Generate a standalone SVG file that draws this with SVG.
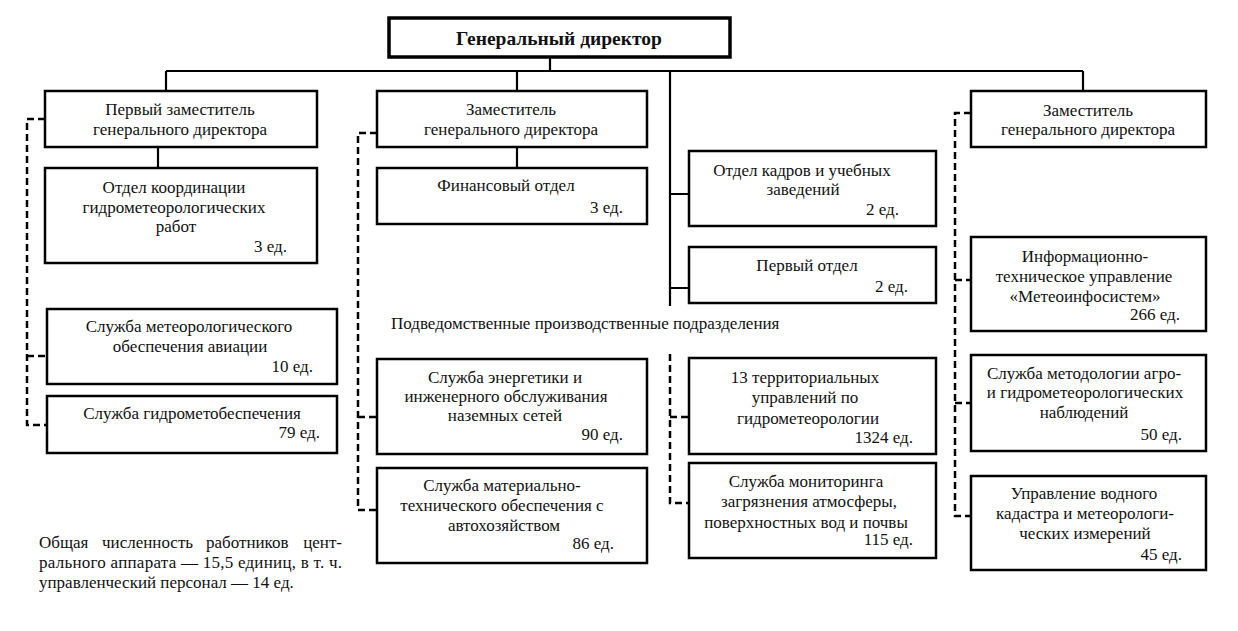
<svg xmlns="http://www.w3.org/2000/svg" width="1238" height="631" viewBox="0 0 1238 631">
<style>
.box{fill:#fff;stroke:#000;stroke-width:2.5}
.gd{fill:#fff;stroke:#000;stroke-width:3.5}
.ln{fill:none;stroke:#000;stroke-width:2.2}
.dl{fill:none;stroke:#000;stroke-width:2.5;stroke-dasharray:7 4}
text{font-family:"Liberation Serif","Times New Roman",serif;font-size:17px;fill:#111}
.c{text-anchor:middle}
.r{text-anchor:end}
.b{font-weight:bold;font-size:19.5px}
</style>
<rect width="1238" height="631" fill="#fff"/>
<g id="connectors">
<path class="ln" d="M550,57V71M166,71H1083M166,71V91M517,71V91M1083,71V91M670,71V306M670,194H689M670,288H689M158,147V168M517,147V168"/>
<path class="dl" d="M45,119H27V425H47M27,356H47"/>
<path class="dl" d="M377,133H358V510H377M358,417H377"/>
<path class="dl" d="M670,354V503H689M670,417H689"/>
<path class="dl" d="M971,113H955V516H971M955,280H971M955,403H971"/>
</g>
<g id="gd"><rect class="gd" x="389" y="18" width="341" height="39"/><text class="c b" x="559" y="45">Генеральный директор</text></g>
<g id="dep1"><rect class="box" x="45" y="91" width="272" height="56"/><text class="c" x="180" y="115">Первый заместитель</text><text class="c" x="180" y="135">генерального директора</text></g>
<g id="coord"><rect class="box" x="45" y="168" width="272" height="95"/><text class="c" x="174" y="193">Отдел координации</text><text class="c" x="174" y="213">гидрометеорологических</text><text class="c" x="176" y="232">работ</text><text class="r" x="287" y="252">3 ед.</text></g>
<g id="meteo"><rect class="box" x="47" y="309" width="290" height="75"/><text class="c" x="189" y="332">Служба метеорологического</text><text class="c" x="190" y="352">обеспечения авиации</text><text class="r" x="313" y="372">10 ед.</text></g>
<g id="hydro"><rect class="box" x="47" y="396" width="290" height="57"/><text class="c" x="192" y="419">Служба гидрометобеспечения</text><text class="r" x="320" y="438">79 ед.</text></g>
<g id="dep2"><rect class="box" x="377" y="91" width="270" height="56"/><text class="c" x="511" y="115">Заместитель</text><text class="c" x="511" y="135">генерального директора</text></g>
<g id="fin"><rect class="box" x="377" y="168" width="270" height="56"/><text class="c" x="506" y="191">Финансовый отдел</text><text class="r" x="623" y="213">3 ед.</text></g>
<g id="energy"><rect class="box" x="377" y="359" width="270" height="95"/><text class="c" x="505" y="383">Служба энергетики и</text><text class="c" x="506" y="402">инженерного обслуживания</text><text class="c" x="505" y="421">наземных сетей</text><text class="r" x="623" y="440">90 ед.</text></g>
<g id="mat"><rect class="box" x="377" y="468" width="270" height="95"/><text class="c" x="502" y="491">Служба материально-</text><text class="c" x="502" y="511">технического обеспечения с</text><text class="c" x="504" y="531">автохозяйством</text><text class="r" x="614" y="549">86 ед.</text></g>
<g id="hr"><rect class="box" x="689" y="151" width="247" height="75"/><text class="c" x="802" y="176">Отдел кадров и учебных</text><text class="c" x="803" y="195">заведений</text><text class="r" x="899" y="215">2 ед.</text></g>
<g id="first"><rect class="box" x="689" y="247" width="247" height="56"/><text class="c" x="807" y="271">Первый отдел</text><text class="r" x="908" y="292">2 ед.</text></g>
<g id="terr"><rect class="box" x="689" y="358" width="247" height="96"/><text class="c" x="805" y="383">13 территориальных</text><text class="c" x="805" y="403">управлений по</text><text class="c" x="808" y="424">гидрометеорологии</text><text class="r" x="913" y="443">1324 ед.</text></g>
<g id="monit"><rect class="box" x="689" y="463" width="247" height="95"/><text class="c" x="806" y="487">Служба мониторинга</text><text class="c" x="809" y="507">загрязнения атмосферы,</text><text class="c" x="806" y="528">поверхностных вод и почвы</text><text class="r" x="913" y="545">115 ед.</text></g>
<g id="dep3"><rect class="box" x="971" y="91" width="235" height="56"/><text class="c" x="1088" y="116">Заместитель</text><text class="c" x="1088" y="135">генерального директора</text></g>
<g id="info"><rect class="box" x="971" y="237" width="235" height="94"/><text class="c" x="1085" y="262">Информационно-</text><text class="c" x="1084" y="282">техническое управление</text><text class="c" x="1085" y="302">«Метеоинфосистем»</text><text class="r" x="1180" y="320">266 ед.</text></g>
<g id="method"><rect class="box" x="971" y="355" width="235" height="96"/><text class="c" x="1084" y="379">Служба методологии агро-</text><text class="c" x="1085" y="398">и гидрометеорологических</text><text class="c" x="1084" y="418">наблюдений</text><text class="r" x="1182" y="440">50 ед.</text></g>
<g id="water"><rect class="box" x="971" y="476" width="235" height="94"/><text class="c" x="1084" y="499">Управление водного</text><text class="c" x="1085" y="519">кадастра и метеорологи-</text><text class="c" x="1085" y="539">ческих измерений</text><text class="r" x="1182" y="560">45 ед.</text></g>
<g id="subhead"><text x="391" y="329">Подведомственные производственные подразделения</text></g>
<g id="footer">
<text x="39" y="548">Общая</text><text x="102" y="548">численность</text><text x="206" y="548">работников</text><text class="r" x="342" y="548">цент-</text>
<text x="39" y="568" textLength="303" lengthAdjust="spacing">рального аппарата — 15,5 единиц, в т. ч.</text>
<text x="39" y="588">управленческий персонал — 14 ед.</text>
</g>
</svg>
